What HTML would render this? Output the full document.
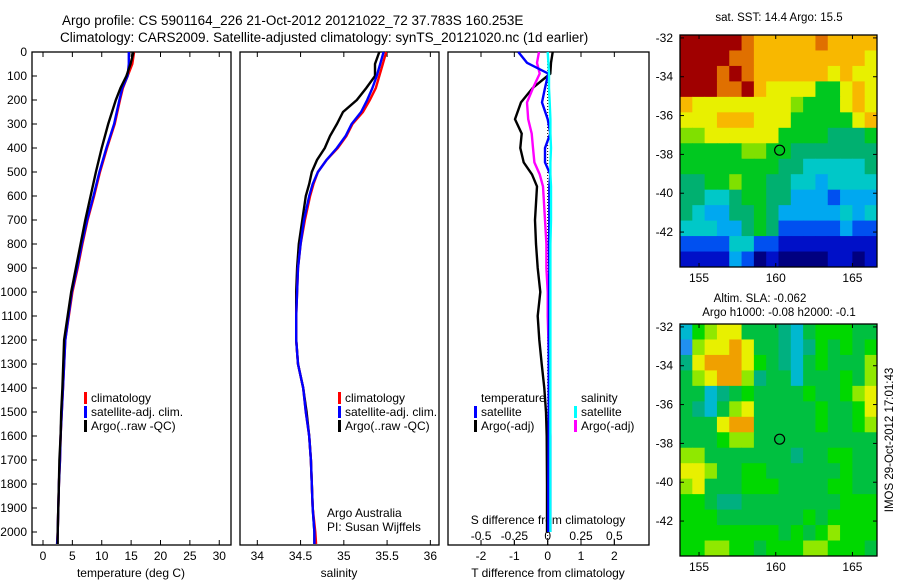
<!DOCTYPE html>
<html><head><meta charset="utf-8"><style>
html,body{margin:0;padding:0;background:#fff;}
svg{display:block;font-family:"Liberation Sans",sans-serif;}
</style></head><body>
<svg id="c" width="900" height="580" xmlns="http://www.w3.org/2000/svg">
<rect width="900" height="580" fill="#fff"/>
<text x="62" y="25" font-size="13.5">Argo profile: CS 5901164_226 21-Oct-2012 20121022_72 37.783S 160.253E</text>
<text x="60" y="42" font-size="13.5">Climatology: CARS2009. Satellite-adjusted climatology: synTS_20121020.nc (1d earlier)</text>
<text x="779" y="21" font-size="11.5" text-anchor="middle">sat. SST: 14.4 Argo: 15.5</text>
<text x="760" y="302" font-size="11.5" text-anchor="middle">Altim. SLA: -0.062</text>
<text x="779" y="316" font-size="11.5" text-anchor="middle">Argo h1000: -0.08 h2000: -0.1</text>
<text transform="translate(893,440) rotate(-90)" font-size="11.5" text-anchor="middle">IMOS 29-Oct-2012 17:01:43</text>
<g id="g"></g>
</svg>
<script>
// ---------- data ----------
const depthTicks=[0,100,200,300,400,500,600,700,800,900,1000,1100,1200,1300,1400,1500,1600,1700,1800,1900,2000];
const tempTicks=[0,5,10,15,20,25,30];
const salTicks=[34,34.5,35,35.5,36];
const tdiffTicks=[-2,-1,0,1,2];
const sdiffTicks=[-0.5,-0.25,0,0.25,0.5];
const tDepth=[0,50,100,150,200,300,400,500,600,700,800,900,1000,1200,1400,1500,1600,1700,1800,2000,2050];
const tClim=[15.5,15.2,14.4,13.6,13.1,12.2,10.9,9.7,8.7,7.6,6.7,5.9,5.0,3.8,3.4,3.2,3.0,2.9,2.7,2.5,2.4];
const tSat=[14.6,14.6,14.4,13.5,13.0,12.1,10.8,9.6,8.6,7.5,6.6,5.8,4.9,3.8,3.4,3.2,3.0,2.9,2.7,2.5,2.4];
const tArgo=[15.4,14.9,14.2,13.2,12.4,11.1,10.0,9.0,8.1,7.2,6.4,5.6,4.8,3.6,3.3,3.1,3.0,2.8,2.7,2.5,2.5];
const sDepth=[0,50,100,150,200,250,300,350,400,450,500,550,600,700,800,900,1000,1100,1200,1300,1400,1500,1600,1700,1800,1900,2000,2050];
const sClim=[35.49,35.45,35.41,35.37,35.3,35.22,35.1,35.03,34.93,34.8,34.7,34.65,34.61,34.55,34.5,34.47,34.46,34.45,34.45,34.47,34.53,34.56,34.6,34.62,34.63,34.64,34.67,34.68];
const sSat=[35.46,35.42,35.38,35.33,35.27,35.2,35.09,35.02,34.92,34.8,34.7,34.64,34.6,34.54,34.5,34.47,34.46,34.45,34.45,34.47,34.53,34.56,34.6,34.62,34.63,34.64,34.66,34.66];
const sArgo=[35.41,35.36,35.36,35.26,35.15,34.99,34.92,34.84,34.78,34.69,34.63,34.6,34.56,34.52,34.48,34.46,34.45,34.45,34.45,34.47,34.53,34.57,34.6,34.62,34.63,34.64,34.66,34.66];
const dDepth=[0,45,90,150,210,280,340,400,460,510,560,700,800,900,1000,1100,1200,1300,1400,1500,1600,1800,2000];
const dTArgo=[0.15,0.1,0.08,-0.45,-0.8,-0.98,-0.78,-0.82,-0.72,-0.47,-0.32,-0.38,-0.35,-0.3,-0.22,-0.3,-0.25,-0.18,-0.1,-0.05,-0.03,-0.02,-0.02];
const dTSat=[-0.88,-0.62,0.02,-0.08,-0.17,0,0.08,-0.08,-0.08,0.08,0.05,0.05,0.04,0.05,0.04,0.04,0.03,0.03,0.03,0.03,0.03,0.02,0.02];
const dSArgo=[-0.065,-0.08,-0.06,-0.11,-0.155,-0.146,-0.12,-0.11,-0.1,-0.06,-0.035,-0.02,-0.01,-0.01,0,0,0.005,0.01,0.01,0.015,0.02,0.02,0.02];
const dSSat=[0,0.005,0.01,0.01,0.015,0.02,0.02,0.025,0.02,0.02,0.025,0.025,0.02,0.02,0.02,0.02,0.02,0.02,0.02,0.02,0.02,0.02,0.02];
const sstRows=["bbbbba99999a9999","bbbbaa9999999998","bbbaba9999998988","bbbaab9888866898","9888888887666898","8889998886666689","7788888866665556","6666677665555555","6666666655444445","5566766554434444","5544566553332333","5433556533333434","4443356522222322","2222442211111111","1111320100001101"];
const slaRows=["1456633321344433","0566763321243434","2677764321343335","3567752331333435","3312343333433456","3213563333343346","3336773333343345","3334553333333333","5533333332334433","6653344333333433","5633344433334433","4432233333333444","4443333333434444","4444444434345444","4455443444554443"];
const lonTicks=[155,160,165];
const latTicks=[-32,-34,-36,-38,-40,-42];
const argoPos=[160.253,-37.783];
// ---------- drawing ----------
const NS="http://www.w3.org/2000/svg";
const G=document.getElementById('g');
function mk(tag,at,parent){const e=document.createElementNS(NS,tag);for(const k in at)e.setAttribute(k,at[k]);(parent||G).appendChild(e);return e;}
function txt(x,y,s,size,anchor){const t=mk('text',{x:x,y:y,'font-size':size,'text-anchor':anchor||'start'});t.textContent=s;return t;}
const yTop=52,yPer=0.24;
function yD(d){return yTop+d*yPer;}
const panels=[{l:32,r:231,x0:-1.87,x1:32.0},{l:240,r:439,x0:33.8,x1:36.1},{l:448,r:649,x0:-2.99,x1:3.04}];
function xs(p,v){return p.l+(v-p.x0)/(p.x1-p.x0)*(p.r-p.l);}
const yB=545;
panels.forEach((p,i)=>{
  const r=mk('rect',{x:p.l,y:yTop,width:p.r-p.l,height:yB-yTop,fill:'none',stroke:'#000','stroke-width':1.3});
  
  
});
// depth axis
depthTicks.forEach(d=>{
  const t=txt(27,yD(d)+4,String(d),12,'end');
  
  
  mk('line',{x1:32,x2:37,y1:yD(d),y2:yD(d),stroke:'#000'});
});
function xAxis(p,ticks,labelY,fmt){
  ticks.forEach(v=>{const x=xs(p,v);
    mk('line',{x1:x,x2:x,y1:yB,y2:yB-5,stroke:'#000'});
    mk('line',{x1:x,x2:x,y1:yTop,y2:yTop+5,stroke:'#000'});
    const t=txt(x,labelY,fmt?fmt(v):String(v),12,'middle');
    
    
  });
}
xAxis(panels[0],tempTicks,560);
xAxis(panels[1],salTicks,560);
xAxis(panels[2],tdiffTicks,560);
let t;
t=txt(131,577,'temperature (deg C)',12,'middle');
t=txt(339,577,'salinity',12,'middle');
t=txt(548,577,'T difference from climatology',12,'middle');
t=txt(548,524,'S difference from climatology',12,'middle');
const pS={l:panels[2].l,r:panels[2].r,x0:-0.748,x1:0.76};
sdiffTicks.forEach(v=>{const x=xs(pS,v);
  const tt=txt(x,540,String(v).replace('0.','0.').replace('-0.','-0.'),12,'middle');
  
  
  mk('line',{x1:x,x2:x,y1:yB,y2:yB-5,stroke:'#000'});
});
// zero dotted line
mk('line',{x1:xs(panels[2],0),x2:xs(panels[2],0),y1:yTop,y2:yB,stroke:'#000','stroke-dasharray':'1,2'});
function series(p,depths,vals,color,name){
  const pts=depths.map((d,i)=>xs(p,vals[i]).toFixed(1)+','+yD(d).toFixed(1)).join(' ');
  const l=mk('polyline',{points:pts,fill:'none',stroke:color,'stroke-width':2.4,'stroke-linejoin':'miter'});
  
  
}
series(panels[0],tDepth,tClim,'#f00','temp-climatology-line');
series(panels[0],tDepth,tSat,'#00f','temp-satellite-line');
series(panels[0],tDepth,tArgo,'#000','temp-argo-line');
series(panels[1],sDepth,sArgo,'#000','sal-argo-line');
series(panels[1],sDepth,sClim,'#f00','sal-climatology-line');
series(panels[1],sDepth,sSat,'#00f','sal-satellite-line');
series(panels[2],dDepth,dTArgo,'#000','tdiff-argo-line');
series(pS,dDepth,dSArgo,'#f0f','sdiff-argo-line');
series(panels[2],dDepth,dTSat,'#00f','tdiff-satellite-line');
series(pS,dDepth,dSSat,'#0ff','sdiff-satellite-line');
// legends
function leg(x,y,color,label){
  if(color) mk('rect',{x:x,y:y-10,width:3,height:12,fill:color});
  const tt=txt(x+7,y,label,12);
  
  
}
[[84,'#f00','climatology'],[84,'#00f','satellite-adj. clim.'],[84,'#000','Argo(..raw -QC)']].forEach((e,i)=>leg(e[0],402+i*14,e[1],e[2]));
[[338,'#f00','climatology'],[338,'#00f','satellite-adj. clim.'],[338,'#000','Argo(..raw -QC)']].forEach((e,i)=>leg(e[0],402+i*14,e[1],e[2]));
leg(474,402,null,'temperature');
leg(474,416,'#00f','satellite');
leg(474,430,'#000','Argo(-adj)');
leg(574,402,null,'salinity');
leg(574,416,'#0ff','satellite');
leg(574,430,'#f0f','Argo(-adj)');
t=txt(327,517,'Argo Australia',12);
t=txt(327,531,'PI: Susan Wijffels',12);
// maps
const sstPal={'0':'#000080','1':'#0010c8','2':'#0050f0','3':'#00a8f0','4':'#00c8c8','5':'#00b070','6':'#00c820','7':'#80e000','8':'#e8f000','9':'#f8b800','a':'#e07000','b':'#a00000'};
const slaPal={'0':'#2090f0','1':'#00b8d0','2':'#00b080','3':'#00c040','4':'#00d800','5':'#90e800','6':'#e8f000','7':'#f0a000'};
const lon0=153.76,lon1=166.6,lat0=-31.85,lat1=-43.8;
function drawMap(top,rows,pal,name){
  const L=680,R=877,B=top+232;
  const mx=v=>L+(v-lon0)/(lon1-lon0)*(R-L);
  const my=v=>top+(v-lat0)/(lat1-lat0)*(B-top);
  const nr=rows.length,nc=rows[0].length;
  const g=mk('g',{});
  
  
  rows.forEach((row,ri)=>{for(let ci=0;ci<nc;ci++){
    const la=lat0+(lat1-lat0)*ri/nr, lb=lat0+(lat1-lat0)*(ri+1)/nr;
    const oa=lon0+(lon1-lon0)*ci/nc, ob=lon0+(lon1-lon0)*(ci+1)/nc;
    mk('rect',{x:mx(oa),y:my(la),width:mx(ob)-mx(oa)+0.5,height:my(lb)-my(la)+0.5,fill:pal[row[ci]]},g);
  }});
  mk('rect',{x:L,y:top,width:R-L,height:B-top,fill:'none',stroke:'#000','stroke-width':1.3},g);
  lonTicks.forEach(v=>{const x=mx(v);
    mk('line',{x1:x,x2:x,y1:top,y2:top+4,stroke:'#000'},g);mk('line',{x1:x,x2:x,y1:B,y2:B-4,stroke:'#000'},g);
    const tt=txt(x,B+15,String(v),12,'middle');});
  latTicks.forEach(v=>{const y=my(v);
    mk('line',{x1:L,x2:L+4,y1:y,y2:y,stroke:'#000'},g);mk('line',{x1:R,x2:R-4,y1:y,y2:y,stroke:'#000'},g);
    const tt=txt(673,y+4,String(v),12,'end');});
  const c=mk('circle',{cx:mx(argoPos[0]),cy:my(argoPos[1]),r:5,fill:'none',stroke:'#000','stroke-width':1.2},g);
  
  
}
drawMap(35,sstRows,sstPal,'sst-map');
drawMap(324,slaRows,slaPal,'sla-map');
</script>
</body></html>
